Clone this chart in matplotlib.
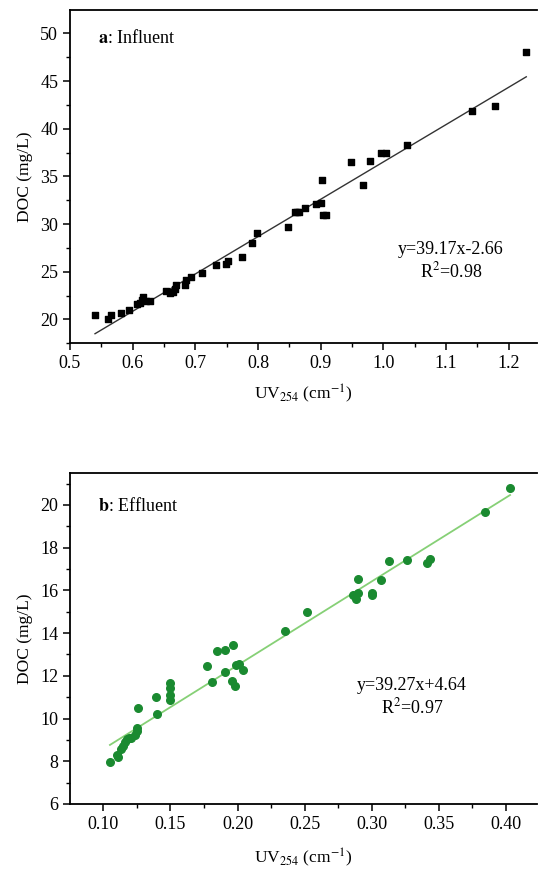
import numpy as np
import matplotlib
matplotlib.use('Agg')
from matplotlib import pyplot as plt
from matplotlib import ticker

plt.rcParams['font.family'] = ['Liberation Serif', 'DejaVu Serif']
plt.rcParams['mathtext.fontset'] = 'stix'

# influent data (UV254, DOC)
uv_in = [0.540, 0.561, 0.566, 0.582, 0.595, 0.607, 0.611, 0.615, 0.617, 0.621,
         0.627, 0.653, 0.659, 0.664, 0.668, 0.669, 0.683, 0.685, 0.693, 0.710,
         0.733, 0.749, 0.752, 0.775, 0.790, 0.799, 0.848, 0.859, 0.862, 0.866,
         0.875, 0.893, 0.900, 0.902, 0.904, 0.909, 0.948, 0.968, 0.979, 0.997,
         1.004, 1.037, 1.142, 1.178, 1.228]
doc_in = [20.5, 20.0, 20.45, 20.7, 20.95, 21.6, 21.75, 22.07, 22.3, 21.9,
          21.9, 23.0, 22.8, 22.9, 23.2, 23.6, 23.6, 24.1, 24.4, 24.9,
          25.7, 25.85, 26.1, 26.5, 28.0, 29.05, 29.7, 31.25, 31.3, 31.25,
          31.7, 32.1, 32.2, 34.65, 30.95, 30.95, 36.5, 34.1, 36.6, 37.4,
          37.45, 38.3, 41.85, 42.35, 48.0]

# effluent data (UV254, DOC)
uv_ef = [0.105, 0.110, 0.111, 0.113, 0.115, 0.116, 0.118, 0.119, 0.121, 0.124,
         0.125, 0.125, 0.126, 0.139, 0.140, 0.150, 0.150, 0.150, 0.150, 0.177,
         0.181, 0.185, 0.191, 0.191, 0.196, 0.198, 0.197, 0.199, 0.201, 0.204,
         0.235, 0.252, 0.286, 0.288, 0.290, 0.290, 0.300, 0.300, 0.307, 0.313,
         0.326, 0.341, 0.343, 0.384, 0.403]
doc_ef = [7.95, 8.3, 8.2, 8.55, 8.7, 8.9, 9.05, 9.1, 9.1, 9.25,
          9.4, 9.55, 10.5, 11.0, 10.2, 11.65, 11.45, 11.1, 10.85, 12.46,
          11.73, 13.17, 13.2, 12.2, 11.77, 11.52, 13.44, 12.5, 12.55, 12.27,
          14.1, 14.97, 15.78, 15.58, 15.9, 16.52, 15.86, 15.8, 16.49, 17.38,
          17.42, 17.3, 17.45, 19.65, 20.78]

fit_in = (39.17, -2.66)
fit_ef = (39.27, 4.64)

fig = plt.figure(figsize=(5.38, 8.71), dpi=100)
ax1 = fig.add_axes([0.130, 0.606, 0.868, 0.382])
ax2 = fig.add_axes([0.130, 0.077, 0.868, 0.380])

def style(ax):
    for s in ['top', 'left', 'bottom', 'right']:
        ax.spines[s].set_linewidth(1.3)
    ax.spines['right'].set_visible(False)
    ax.tick_params(which='major', direction='out', length=5, width=1.1,
                   labelsize=13, top=False, right=False)
    ax.tick_params(which='minor', direction='out', length=3, width=1.0,
                   top=False, right=False)

# panel a
ax1.scatter(uv_in, doc_in, marker='s', s=24, color='black', zorder=3)
xx = np.array([min(uv_in), max(uv_in)])
ax1.plot(xx, fit_in[0] * xx + fit_in[1], color='#333333', lw=1.0)
ax1.set_xlim(0.5, 1.245)
ax1.set_ylim(17.5, 52.4)
ax1.xaxis.set_major_locator(ticker.MultipleLocator(0.1))
ax1.xaxis.set_minor_locator(ticker.MultipleLocator(0.05))
ax1.yaxis.set_major_locator(ticker.MultipleLocator(5))
ax1.yaxis.set_minor_locator(ticker.MultipleLocator(2.5))
ax1.xaxis.set_major_formatter(ticker.FormatStrFormatter('%.1f'))
style(ax1)
ax1.set_xlabel(r'UV$_{254}$ (cm$^{-1}$)', fontsize=12.5, labelpad=8)
ax1.set_ylabel('DOC (mg/L)', fontsize=12.5, labelpad=5)
ax1.text(0.06, 0.917, r'$\mathbf{a}$: Influent', transform=ax1.transAxes,
         fontsize=13, ha='left', va='center')
ax1.text(1.108, 26.1, 'y=39.17x-2.66\nR$^2$=0.98', fontsize=13,
         ha='center', va='center', linespacing=1.25)

# panel b
ax2.scatter(uv_ef, doc_ef, marker='o', s=30, color='#1a8a30', zorder=3)
xx = np.array([min(uv_ef), max(uv_ef)])
ax2.plot(xx, fit_ef[0] * xx + fit_ef[1], color='#86d076', lw=1.3)
ax2.set_xlim(0.0752, 0.423)
ax2.set_ylim(6, 21.5)
ax2.xaxis.set_major_locator(ticker.MultipleLocator(0.05))
ax2.xaxis.set_minor_locator(ticker.MultipleLocator(0.025))
ax2.yaxis.set_major_locator(ticker.MultipleLocator(2))
ax2.yaxis.set_minor_locator(ticker.MultipleLocator(1))
ax2.xaxis.set_major_formatter(ticker.FormatStrFormatter('%.2f'))
style(ax2)
ax2.set_xlabel(r'UV$_{254}$ (cm$^{-1}$)', fontsize=12.5, labelpad=10)
ax2.set_ylabel('DOC (mg/L)', fontsize=12.5, labelpad=5)
ax2.text(0.06, 0.90, r'$\mathbf{b}$: Effluent', transform=ax2.transAxes,
         fontsize=13, ha='left', va='center')
ax2.text(0.330, 11.0, 'y=39.27x+4.64\nR$^2$=0.97', fontsize=13,
         ha='center', va='center', linespacing=1.25)

fig.savefig('out.png', dpi=100)
